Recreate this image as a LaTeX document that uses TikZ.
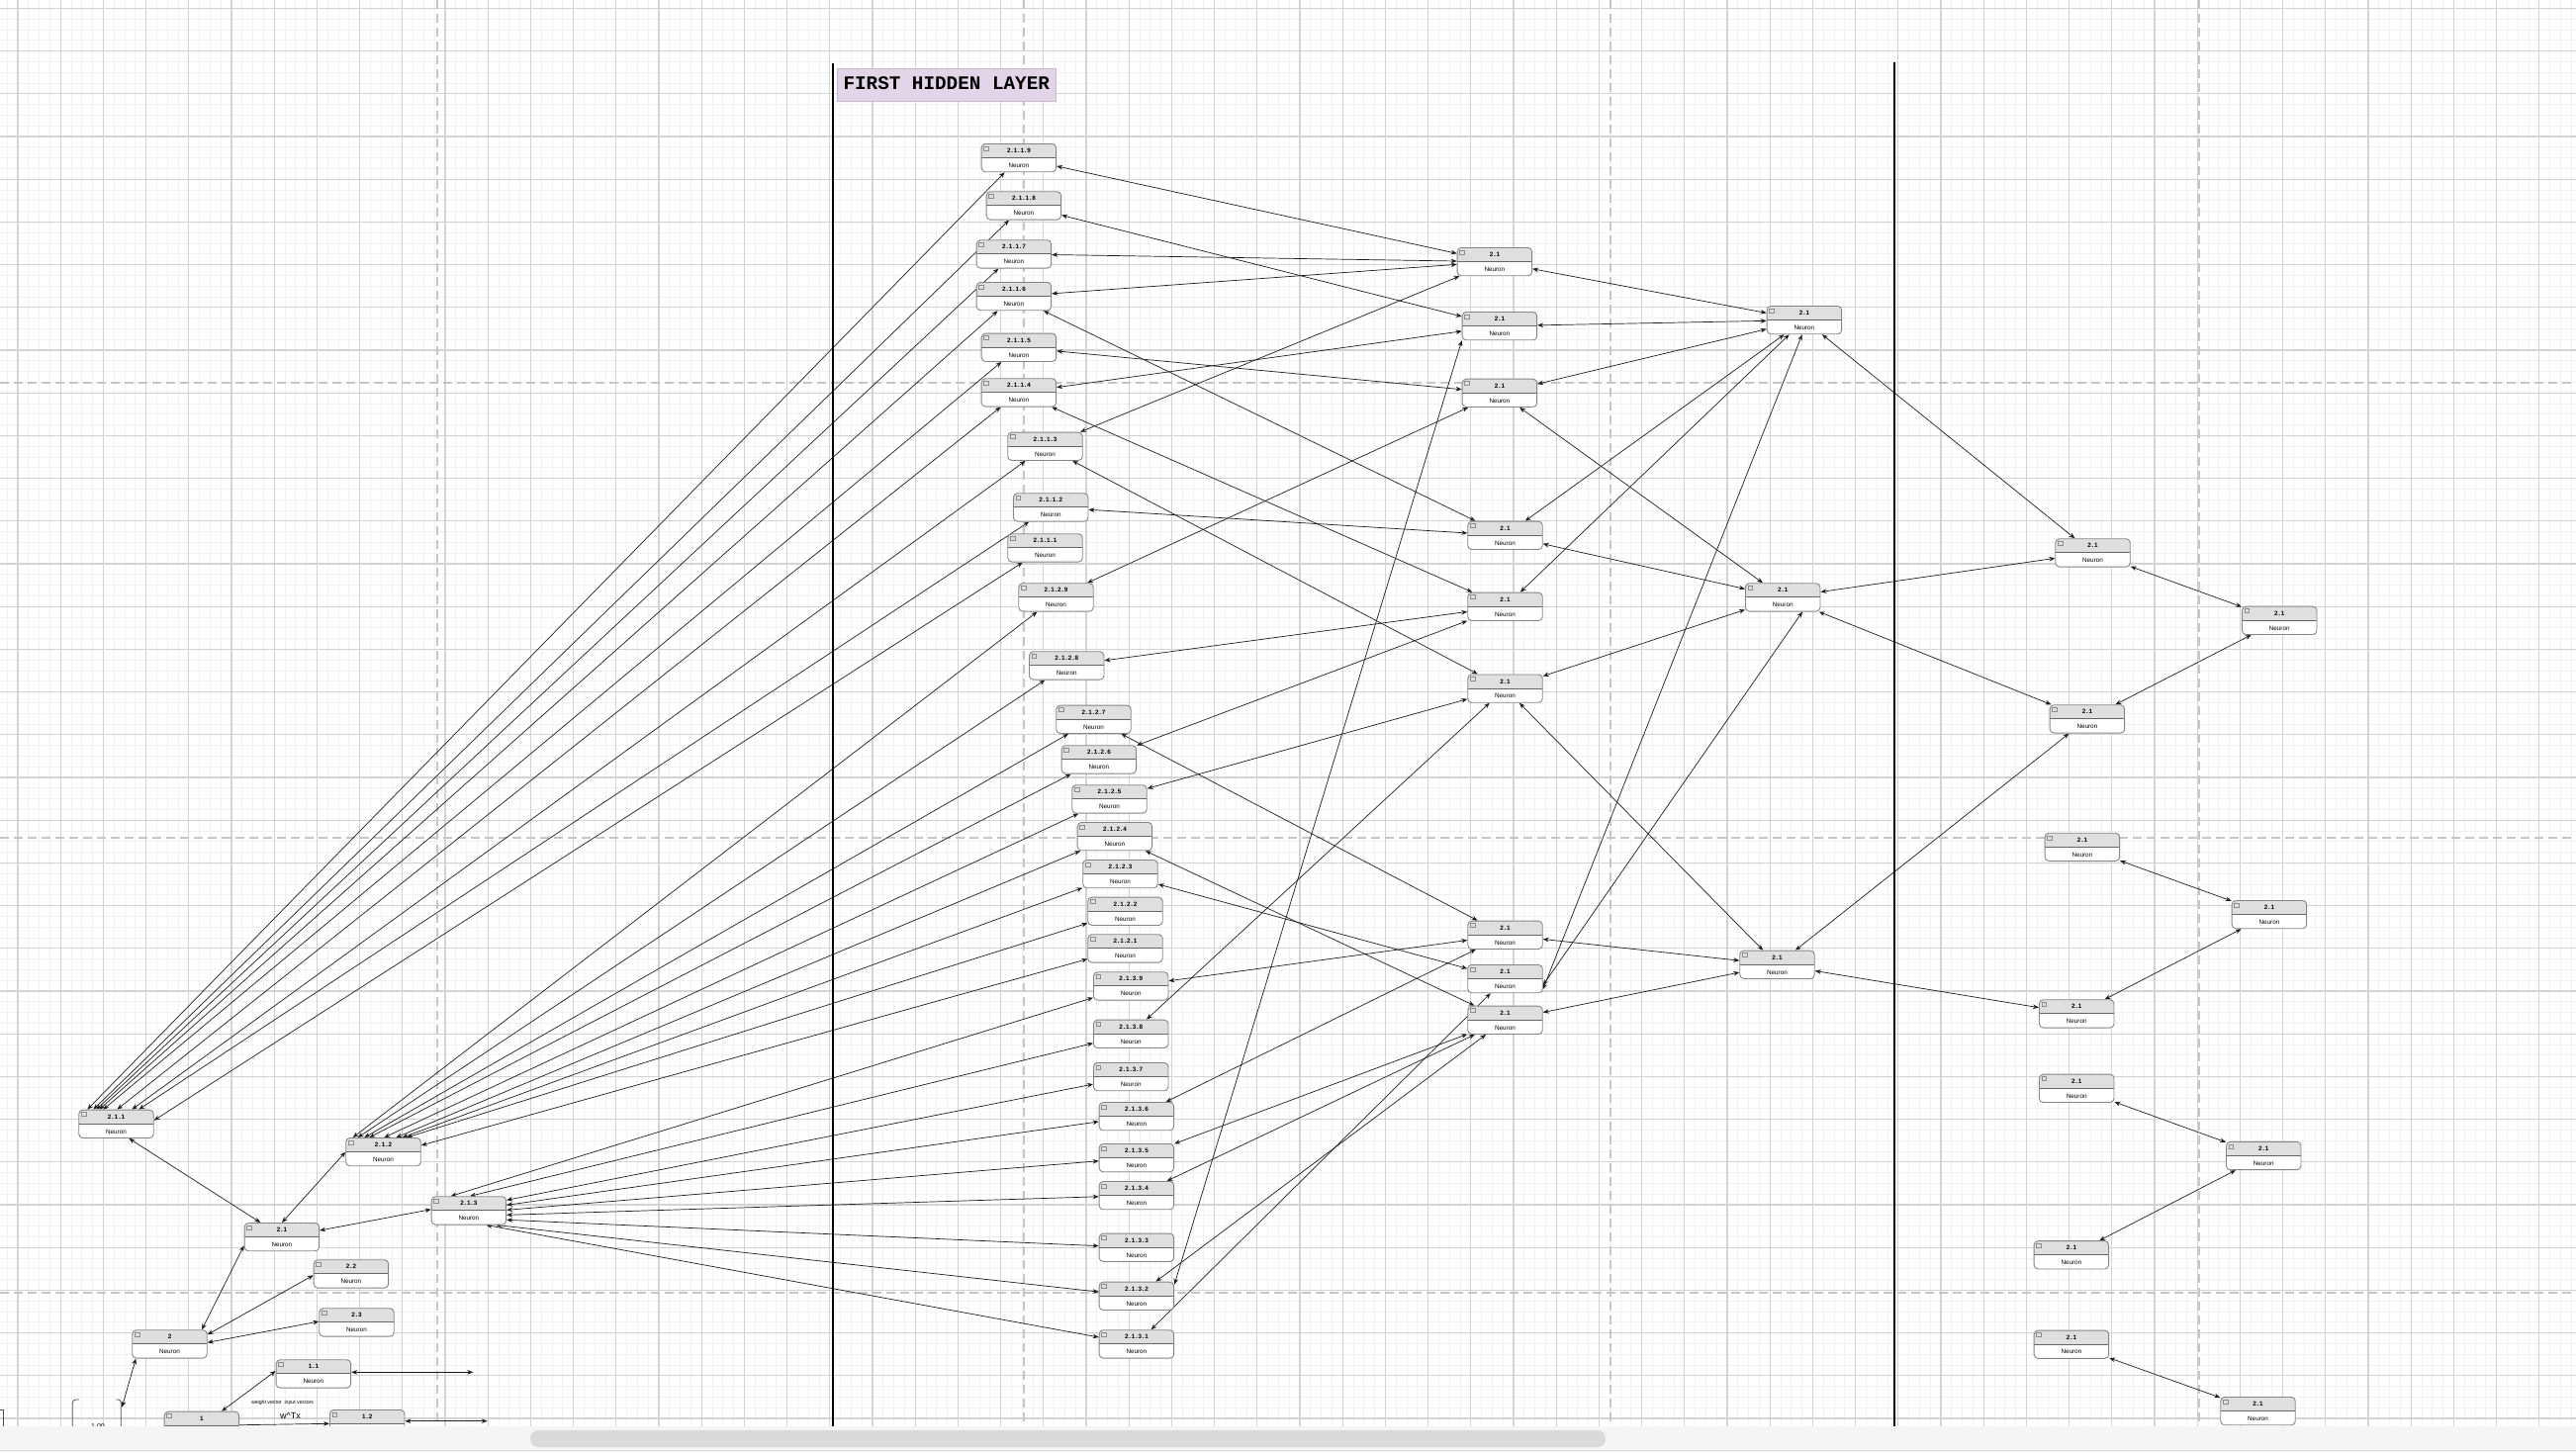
\documentclass[tikz,border=0pt]{standalone}
\usepackage{fontspec}
\setmainfont{Liberation Sans}
\newfontfamily\lblfont[LetterSpace=12]{Liberation Sans}
\newfontfamily\ttlfont{Liberation Mono}
\usetikzlibrary{arrows.meta,calc}
\definecolor{gridmaj}{HTML}{D3D3D3}
\definecolor{gridmin}{HTML}{F1F1F1}
\definecolor{dashc}{HTML}{C6C6C6}
\definecolor{hdr}{HTML}{DFDFDF}
\definecolor{nborder}{HTML}{858585}
\definecolor{titlefill}{HTML}{E1D5E7}
\definecolor{titledraw}{HTML}{C8B6D2}
\definecolor{barbg}{HTML}{F5F5F7}
\definecolor{thumbc}{HTML}{DADADA}
\definecolor{edgec}{HTML}{1E1E1E}
\pgfdeclarelayer{bg}\pgfdeclarelayer{edges}\pgfdeclarelayer{top}
\pgfsetlayers{bg,edges,main,top}
\tikzset{
 neuron/.style={anchor=north west, minimum width=75.5pt, minimum height=28.3pt, inner sep=0pt,
   rounded corners=4pt, draw=nborder, line width=0.9pt, fill=white,
   path picture={
     \fill[hdr, sharp corners] (path picture bounding box.north west) rectangle ([yshift=-14pt]path picture bounding box.north east);
     \draw[black!60, line width=0.9pt, sharp corners] ([yshift=-14pt]path picture bounding box.north west) -- ([yshift=-14pt]path picture bounding box.north east);
     \draw[black!45, fill=black!12, line width=0.5pt, sharp corners] ([shift={(2.5pt,-2.5pt)}]path picture bounding box.north west) rectangle ([shift={(7pt,-6.5pt)}]path picture bounding box.north west);
   }},
 hdrtxt/.style={inner sep=0pt, font=\lblfont\bfseries\fontsize{6.3}{7}\selectfont},
 bodytxt/.style={inner sep=0pt, font=\fontsize{6.3}{7}\selectfont},
 link/.style={draw=edgec, line width=0.7pt, {Stealth[length=6pt,width=4.6pt]}-{Stealth[length=6pt,width=4.6pt]}},
 linkone/.style={draw=edgec, line width=0.7pt, -{Stealth[length=6pt,width=4.6pt]}},
 bracketline/.style={draw=black!70, line width=0.8pt},
}
\newcommand\mkneuron[4]{%
  \node[neuron] (#1) at (#2,#3) {};
  \node[hdrtxt] (#1h) at ([yshift=-7.3pt]#1.north) {#4};
  \node[bodytxt] (#1b) at ([yshift=7pt]#1.south) {Neuron};
}
\begin{document}
\begin{tikzpicture}[x=1pt,y=-1pt]
\useasboundingbox (0,0) rectangle (2604,1468);
\begin{pgfonlayer}{bg}
\fill[white] (0,0) rectangle (2604,1468);
\foreach \i in {0,...,240} \draw[gridmin, line width=0.8pt] ({7.2+\i*10.8},0) -- ({7.2+\i*10.8},1468);
\foreach \i in {0,...,135} \draw[gridmin, line width=0.8pt] (0,{\i*10.8-2.5}) -- (2604,{\i*10.8-2.5});
\foreach \i in {0,...,59} \draw[gridmaj, line width=1.2pt] ({18+\i*43.2},0) -- ({18+\i*43.2},1468);
\foreach \i in {0,...,33} \draw[gridmaj, line width=1.2pt] (0,{8.3+\i*43.2}) -- (2604,{8.3+\i*43.2});
\foreach \x in {442,1035,1628,2223} \draw[dashc, line width=2.6pt, dash pattern=on 9pt off 5pt] (\x,0) -- (\x,1468);
\foreach \y in {387,847,1307} \draw[dashc, line width=2.6pt, dash pattern=on 9pt off 5pt] (0,\y) -- (2604,\y);
\end{pgfonlayer}

% layer dividers and title
\draw[black, line width=2.6pt] (842,64) -- (842,1468);
\draw[black, line width=2.6pt] (1915,63) -- (1915,1468);
\node[draw=titledraw, fill=titlefill, line width=1pt, anchor=north west, minimum width=221.6pt, minimum height=33pt, inner sep=0pt] (title) at (845.7,69.3) {};
\node[anchor=base west, inner sep=0pt, font=\ttlfont\bfseries\fontsize{19.3}{20}\selectfont] (titletext) at (852.3,90.7) {FIRST HIDDEN LAYER};

% middle column
\mkneuron{m119}{991.7}{145}{2.1.1.9}
\mkneuron{m118}{996.7}{193.3}{2.1.1.8}
\mkneuron{m117}{986.7}{242.3}{2.1.1.7}
\mkneuron{m116}{986.7}{285}{2.1.1.6}
\mkneuron{m115}{991.7}{336.7}{2.1.1.5}
\mkneuron{m114}{991.7}{382.3}{2.1.1.4}
\mkneuron{m113}{1018.3}{436.7}{2.1.1.3}
\mkneuron{m112}{1024}{498.3}{2.1.1.2}
\mkneuron{m111}{1018.3}{539.3}{2.1.1.1}
\mkneuron{m129}{1029.3}{589.3}{2.1.2.9}
\mkneuron{m128}{1040}{658.3}{2.1.2.8}
\mkneuron{m127}{1067.3}{712.7}{2.1.2.7}
\mkneuron{m126}{1072.7}{753.3}{2.1.2.6}
\mkneuron{m125}{1083.3}{793.3}{2.1.2.5}
\mkneuron{m124}{1088.7}{831}{2.1.2.4}
\mkneuron{m123}{1094.3}{869}{2.1.2.3}
\mkneuron{m122}{1099.3}{906.7}{2.1.2.2}
\mkneuron{m121}{1099.3}{944.3}{2.1.2.1}
\mkneuron{m139}{1105}{982.3}{2.1.3.9}
\mkneuron{m138}{1105}{1030.7}{2.1.3.8}
\mkneuron{m137}{1105}{1074}{2.1.3.7}
\mkneuron{m136}{1110.7}{1114}{2.1.3.6}
\mkneuron{m135}{1110.7}{1156}{2.1.3.5}
\mkneuron{m134}{1110.7}{1194}{2.1.3.4}
\mkneuron{m133}{1110.7}{1246.7}{2.1.3.3}
\mkneuron{m132}{1110.7}{1295.7}{2.1.3.2}
\mkneuron{m131}{1110.7}{1344.3}{2.1.3.1}

% second column
\mkneuron{cA}{1472.7}{250}{2.1}
\mkneuron{cB}{1477.7}{315}{2.1}
\mkneuron{cC}{1477.7}{382.7}{2.1}
\mkneuron{cD}{1483.3}{526.7}{2.1}
\mkneuron{cE}{1483.3}{598.7}{2.1}
\mkneuron{cF}{1483.3}{681.5}{2.1}
\mkneuron{cG}{1483.3}{930.7}{2.1}
\mkneuron{cH}{1483.3}{975}{2.1}
\mkneuron{cI}{1483.3}{1016.7}{2.1}
% third column
\mkneuron{rA}{1785.7}{309}{2.1}
\mkneuron{rB}{1764}{589.3}{2.1}
\mkneuron{rC}{1758.3}{960.7}{2.1}
% right columns
\mkneuron{sA}{2077.3}{544.3}{2.1}
\mkneuron{tA}{2266}{612.7}{2.1}
\mkneuron{sB}{2071.7}{712.3}{2.1}
\mkneuron{sC}{2066.7}{841.8}{2.1}
\mkneuron{tB}{2255.7}{910}{2.1}
\mkneuron{sD}{2061}{1010.3}{2.1}
\mkneuron{sE}{2061}{1085.7}{2.1}
\mkneuron{tC}{2250}{1153.9}{2.1}
\mkneuron{sF}{2055.7}{1254.2}{2.1}
\mkneuron{sG}{2055.7}{1344.6}{2.1}
\mkneuron{tD}{2244.3}{1412}{2.1}
% lower left
\mkneuron{L1}{79.3}{1121.7}{2.1.1}
\mkneuron{L2}{349.3}{1150}{2.1.2}
\mkneuron{L3}{435.7}{1209.3}{2.1.3}
\mkneuron{M1}{246.7}{1236}{2.1}
\mkneuron{P2}{316.7}{1273.3}{2.2}
\mkneuron{P3}{322.3}{1322.3}{2.3}
\mkneuron{N2}{133.3}{1344.3}{2}
\mkneuron{Q1}{278.7}{1374.3}{1.1}
\mkneuron{N1}{165.7}{1426.7}{1}
\mkneuron{Q2}{333}{1425}{1.2}

\coordinate (brk) at (123.3,1422.7);
\coordinate (qaend) at (478.3,1387.3);
\coordinate (qbend) at (492.7,1436.7);
\node[inner sep=0pt, font=\fontsize{5.2}{6}\selectfont] (wvlabel) at (285.5,1418.3) {weight vector\ \ input vectors};
\node[inner sep=0pt, font=\fontsize{9}{10}\selectfont] (wtx) at (293.5,1431.7) {w\textasciicircum Tx};
\node[inner sep=0pt, anchor=north, font=\fontsize{7}{8}\selectfont] (onezero) at (99,1439.5) {1.00};
\draw[bracketline] (80,1415) -- (76.5,1415) to[out=180,in=90] (73.3,1418.5) -- (73.3,1445);
\draw[bracketline] (117.3,1415) -- (119.5,1415) to[out=0,in=90] (122.3,1418) -- (122.3,1445);
\draw[bracketline] (0,1425) -- (3.3,1425) -- (3.3,1445);

\begin{pgfonlayer}{edges}
% L1 fan
\draw[link] ([xshift=9pt]L1.north west) -- (m119);
\draw[link] ([xshift=15pt]L1.north west) -- (m118);
\draw[link] ([xshift=18pt]L1.north west) -- (m117);
\draw[link] ([xshift=21pt]L1.north west) -- (m116);
\draw[link] ([xshift=25pt]L1.north west) -- (m115);
\draw[link] ([xshift=39pt]L1.north west) -- (m114);
\draw[link] ([xshift=54pt]L1.north west) -- (m113);
\draw[link] ([xshift=61pt]L1.north west) -- (m112);
\draw[link] ([yshift=-11pt]L1.north east) -- (m111);
% L2 fan
\draw[link] ([xshift=7.4pt]L2.north west) -- (m129);
\draw[link] ([xshift=12.4pt]L2.north west) -- (m128);
\draw[link] ([xshift=19pt]L2.north west) -- (m127);
\draw[link] ([xshift=24pt]L2.north west) -- (m126);
\draw[link] ([xshift=39pt]L2.north west) -- (m125);
\draw[link] ([xshift=51pt]L2.north west) -- (m124);
\draw[link] ([xshift=57.4pt]L2.north west) -- (m123);
\draw[link] ([xshift=62pt]L2.north west) -- (m122);
\draw[link] ([yshift=-8pt]L2.north east) -- (m121);
% L3 fan
\draw[link] ([xshift=20pt]L3.north west) -- (m139);
\draw[link] ([xshift=39.3pt]L3.north west) -- (m138);
\draw[link] ([yshift=-4pt]L3.north east) -- (m137);
\draw[link] ([yshift=-9pt]L3.north east) -- (m136);
\draw[link] ([yshift=-14pt]L3.north east) -- (m135);
\draw[link] ([yshift=-19pt]L3.north east) -- (m134);
\draw[link] ([yshift=-24pt]L3.north east) -- (m133);
\draw[link] ([xshift=-10.7pt]L3.south east) -- (m132);
\draw[link] ([xshift=-20.7pt]L3.south east) -- (m131);
% middle column to second column
\draw[link] (m119) -- (cA);
\draw[link] (m118) -- (cB);
\draw[link] (m117) -- (cA);
\draw[link] (m116) -- (cA);
\draw[link] (m116) -- (cD);
\draw[link] (m115) -- (cC);
\draw[link] (m114) -- (cB);
\draw[link] (m114) -- (cE);
\draw[link] (m113) -- (cA);
\draw[link] (m113) -- (cF);
\draw[link] (m112) -- (cD);
\draw[link] (m129) -- (cC);
\draw[link] (m128) -- (cE);
\draw[link] (m127) -- (cG);
\draw[link] (m126) -- (cE);
\draw[link] (m125) -- (cF);
\draw[link] (m124) -- (cI);
\draw[link] (m123) -- (cH);
\draw[link] (m139) -- (cG);
\draw[link] (m138) -- (cF);
\draw[link] (m136) -- (cG);
\draw[link] (m135) -- (cI);
\draw[link] (m134) -- (cI);
\draw[link] (m132) -- (cI);
\draw[link] ([yshift=-3pt]m132.north east) -- (cB.south west);
\draw[link] (m131) -- (cH);
% second column to third column
\draw[link] (cA) -- (rA);
\draw[link] (cB) -- (rA);
\draw[link] (cC) -- (rA);
\draw[link] (cD) -- (rA);
\draw[link] (cE) -- (rA);
\draw[link] ([xshift=36pt]rA.south west) -- ([yshift=4pt]cH.south east);
\draw[link] (cC) -- (rB);
\draw[link] (cD) -- (rB);
\draw[link] (cF) -- (rB);
\draw[link] ([xshift=58pt]rB.south west) -- ([yshift=8pt]cH.south east);
\draw[link] (cF) -- (rC);
\draw[link] (cG) -- (rC);
\draw[link] (cI) -- (rC);
% third column to right
\draw[link] (rA) -- (sA);
\draw[link] (rB) -- (sA);
\draw[link] (rB) -- (sB);
\draw[link] (rC) -- (sB);
\draw[link] (rC) -- (sD);
\draw[link] (sA) -- (tA);
\draw[link] (tA) -- (sB);
\draw[link] (sC) -- (tB);
\draw[link] (tB) -- (sD);
\draw[link] (sE) -- (tC);
\draw[link] (tC) -- (sF);
\draw[link] (sG) -- (tD);
% lower left
\draw[link] ([xshift=51pt]L1.south west) -- ([xshift=16.6pt]M1.north west);
\draw[link] (L2.west) -- ([xshift=38.3pt]M1.north west);
\draw[link] ([yshift=-13.4pt]L3.north west) -- ([yshift=-8pt]M1.north east);
\draw[link] ([yshift=-23.3pt]M1.north west) -- ([xshift=70.7pt]N2.north west);
\draw[link] ([yshift=-16pt]P2.north west) -- ([yshift=-5pt]N2.north east);
\draw[link] ([yshift=-13.7pt]P3.north west) -- ([yshift=-13pt]N2.north east);
\draw[link] ([xshift=4pt]N2.south west) -- (brk);
\draw[link] ([xshift=58.3pt]N1.north west) -- ([yshift=-11.7pt]Q1.north west);
\draw[link] ([yshift=-13pt]Q1.north east) -- (qaend);
\draw[link] ([yshift=-11.7pt]Q2.north east) -- (qbend);
\draw[linkone] ([yshift=-14pt]N1.north east) -- ([yshift=-14.3pt]Q2.north west);
\end{pgfonlayer}

\begin{pgfonlayer}{top}
\fill[barbg] (0,1441.7) rectangle (2604,1468);
\draw[black!12, line width=1pt] (0,1466.5) -- (2604,1466.5);
\fill[thumbc, rounded corners=8pt] (536,1446) rectangle (1623,1463);
\end{pgfonlayer}
\end{tikzpicture}
\end{document}
